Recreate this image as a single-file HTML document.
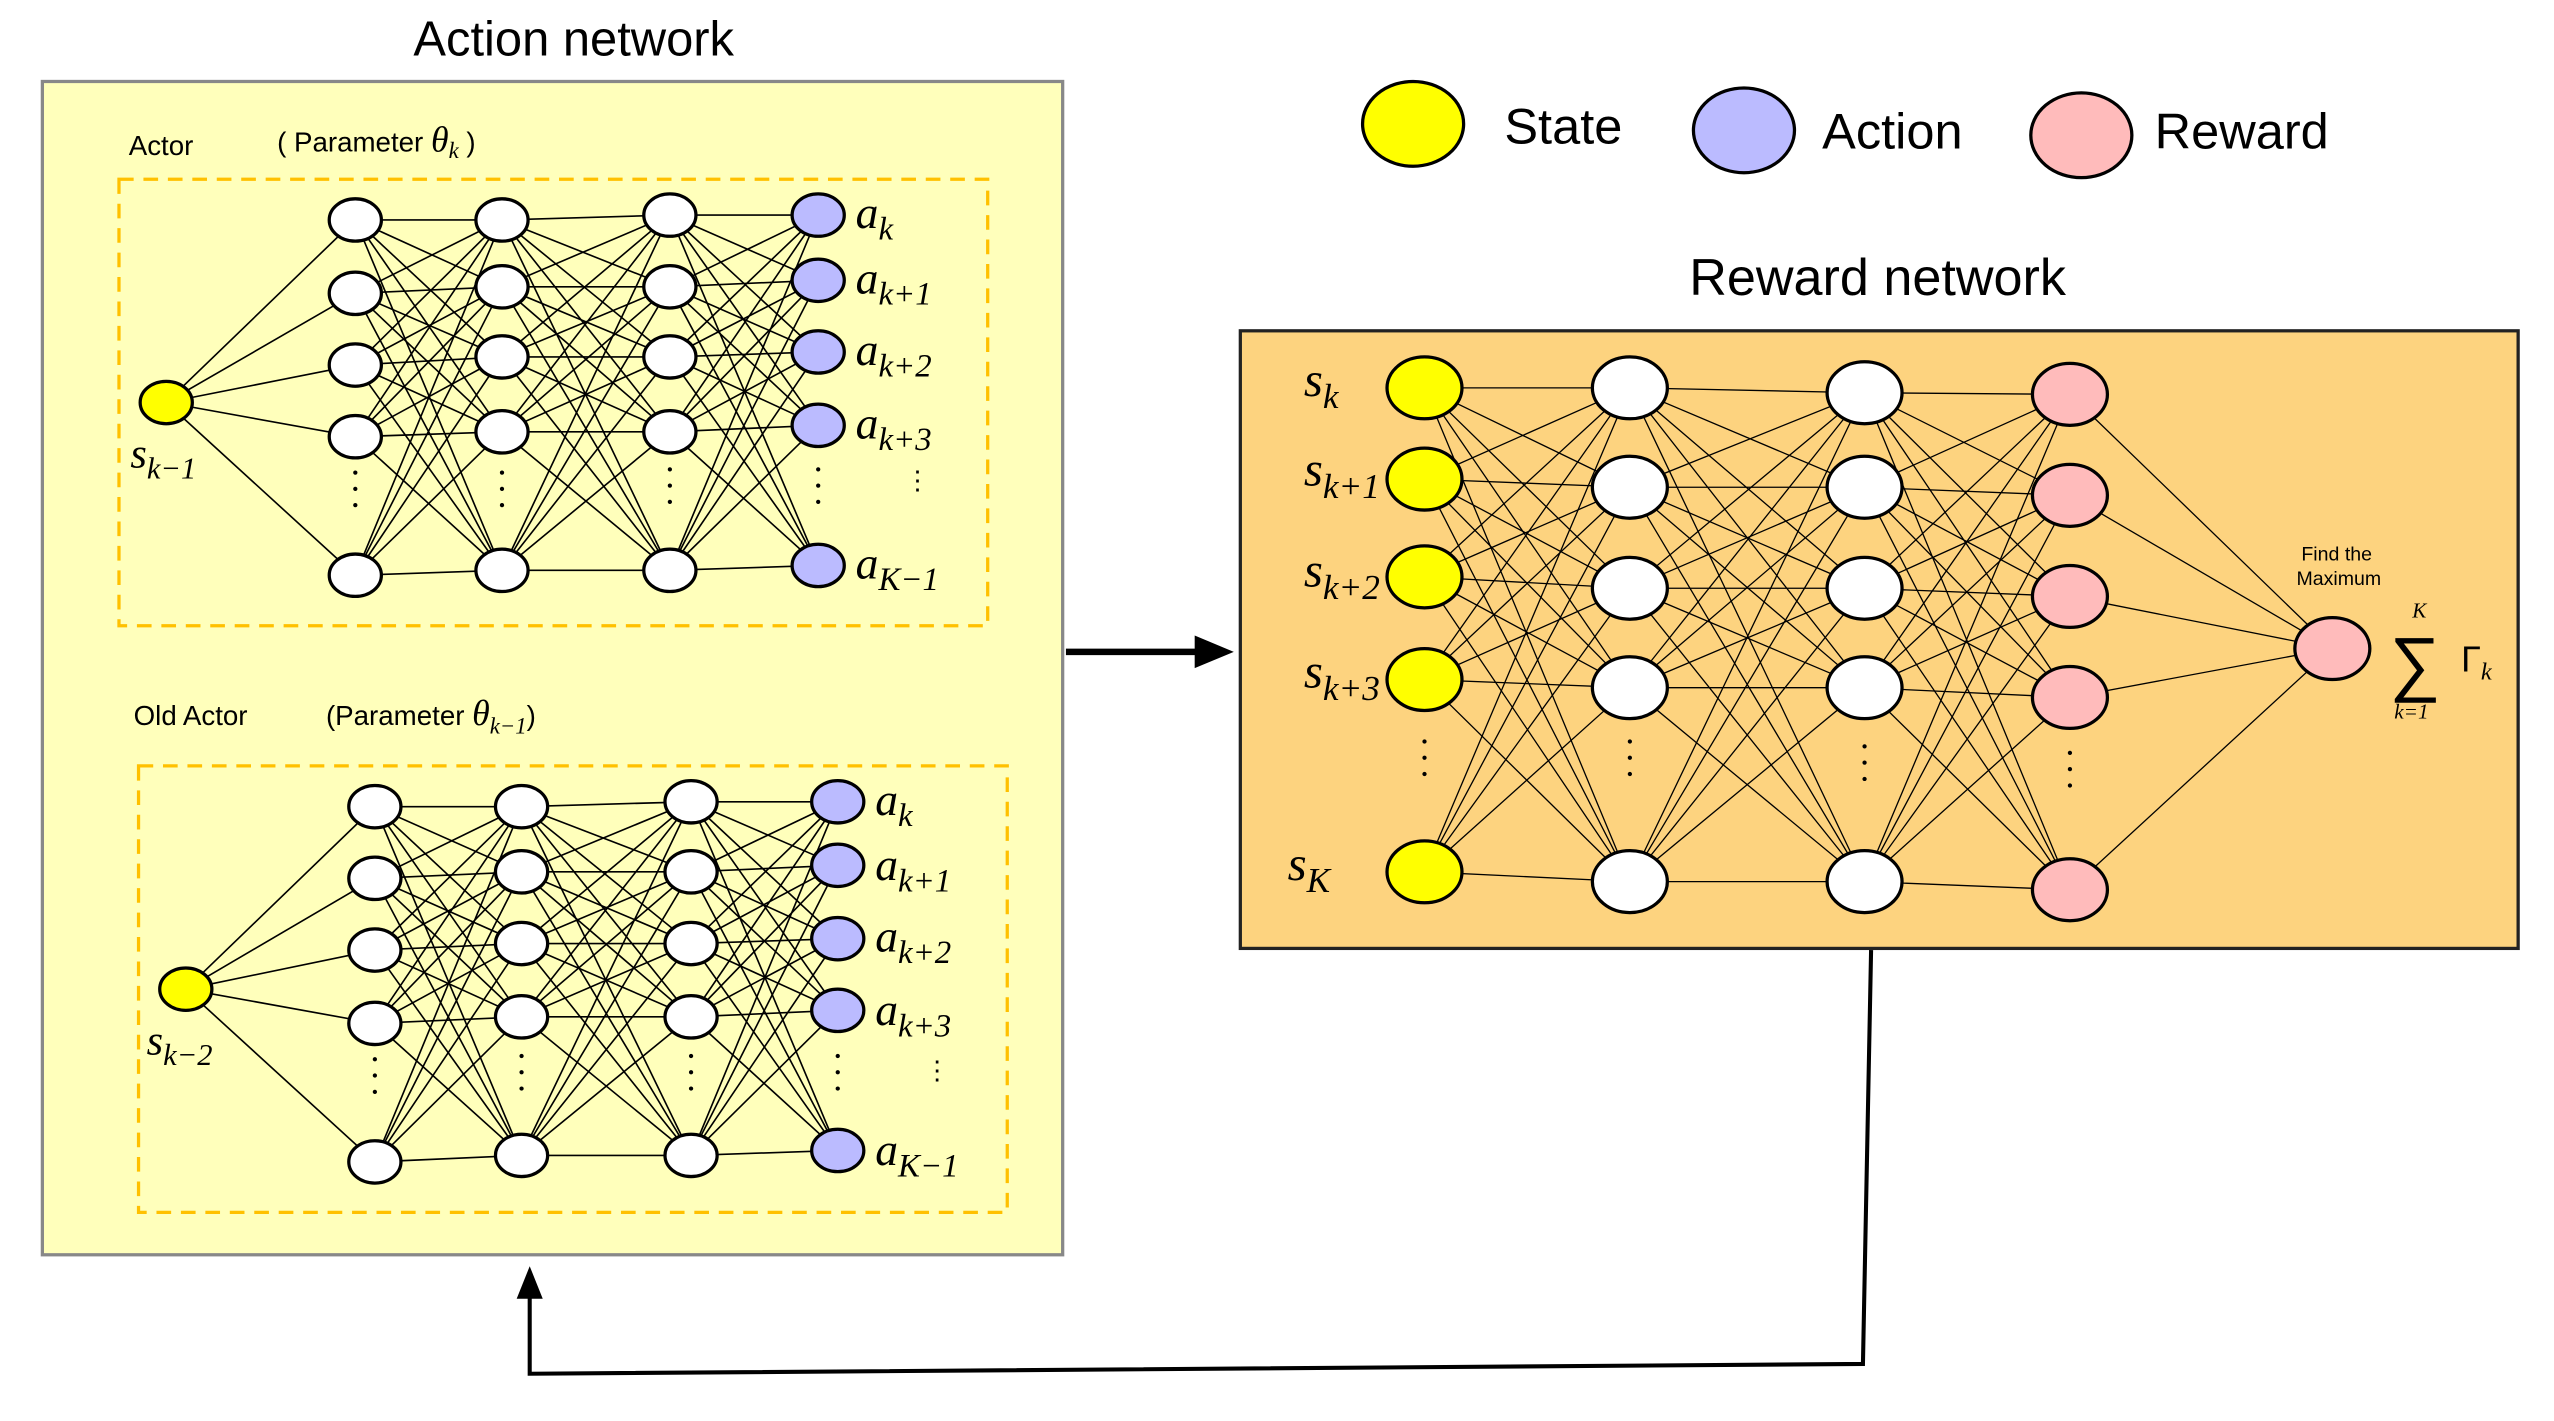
<!DOCTYPE html>
<html><head><meta charset="utf-8"><style>
html,body{margin:0;padding:0;background:#fff;}
svg{display:block;}
text{font-family:"Liberation Sans",sans-serif;}
.m{font-family:"Liberation Serif",serif;font-style:italic;}
</style></head><body>
<svg id="s" width="2554" height="1421" viewBox="0 0 1567 872" preserveAspectRatio="none" xmlns="http://www.w3.org/2000/svg">
<rect x="0" y="0" width="1567" height="872" fill="#fff"/>
<text x="352" y="34" font-size="30" text-anchor="middle">Action network</text>
<rect x="26" y="50" width="626" height="720" fill="#ffffbb" stroke="#888" stroke-width="2"/>
<rect x="73" y="110" width="533" height="274" fill="none" stroke="#ffc000" stroke-width="2" stroke-dasharray="9,6"/>
<rect x="85" y="470" width="533" height="274" fill="none" stroke="#ffc000" stroke-width="2" stroke-dasharray="9,6"/>
<text x="79" y="95" font-size="17">Actor</text>
<text x="170" y="93" font-size="17">( Parameter <tspan class="m" font-size="22">θ</tspan><tspan class="m" font-size="14" dy="4">k</tspan><tspan dy="-4"> )</tspan></text>
<text x="82" y="445" font-size="17">Old Actor</text>
<text x="200" y="445" font-size="17">(Parameter <tspan class="m" font-size="22">θ</tspan><tspan class="m" font-size="14" dy="5">k−1</tspan><tspan dy="-5">)</tspan></text>
<text x="1152" y="181" font-size="32" text-anchor="middle">Reward network</text>
<rect x="761" y="203" width="784" height="379" fill="#fdd37f" stroke="#222" stroke-width="2"/>
<g id="g"></g>
<ellipse cx="867" cy="76" rx="31" ry="26" fill="#ffff00" stroke="#000" stroke-width="2"/>
<text x="923" y="88" font-size="31">State</text>
<ellipse cx="1070" cy="80" rx="31" ry="26" fill="#bbbbff" stroke="#000" stroke-width="2"/>
<text x="1118" y="91" font-size="31">Action</text>
<ellipse cx="1277" cy="83" rx="31" ry="26" fill="#ffbbbb" stroke="#000" stroke-width="2"/>
<text x="1322" y="91" font-size="31">Reward</text>
<line x1="654" y1="400" x2="735" y2="400" stroke="#000" stroke-width="4"/>
<polygon points="733,390 757,400 733,410" fill="#000"/>
<polyline points="1148,583 1143,837 325,843 325,795" fill="none" stroke="#000" stroke-width="2.5"/>
<polygon points="317,797 325,777 333,797" fill="#000"/>
<text x="1412" y="344" font-size="12">Find the</text>
<text x="1409" y="359" font-size="12">Maximum</text>
<text x="1466" y="422" font-size="44" font-family="Liberation Serif,serif">∑</text>
<text x="1480" y="379" font-size="13" class="m">K</text>
<text x="1469" y="441" font-size="13" class="m">k=1</text>
<text x="1510" y="412" font-size="22" font-family="Liberation Serif,serif">Γ<tspan class="m" font-size="15" dy="5">k</tspan></text>
</svg>
<script>
var g=document.getElementById('g'),L='',N='',T='';
function ln(a,b,c,d,w){L+='<line x1="'+a+'" y1="'+b+'" x2="'+c+'" y2="'+d+'" stroke="#000" stroke-width="'+w+'"/>';}
function el(x,y,rx,ry,f){N+='<ellipse cx="'+x+'" cy="'+y+'" rx="'+rx+'" ry="'+ry+'" fill="'+f+'" stroke="#000" stroke-width="2"/>';}
function dots(x,y){for(var i=0;i<3;i++)N+='<circle cx="'+x+'" cy="'+(y+i*10)+'" r="1.3" fill="#000"/>';}
function net(inp,layers,cols,rx,ry,rxi,ryi,w,dotY){
 var a=layers[0];
 for(var j=0;j<a.ys.length;j++)ln(inp[0],inp[1],a.x,a.ys[j],w);
 for(var k=0;k<layers.length-1;k++){var p=layers[k],q=layers[k+1];
  for(var i=0;i<p.ys.length;i++)for(var j=0;j<q.ys.length;j++)ln(p.x,p.ys[i],q.x,q.ys[j],w);}
 el(inp[0],inp[1],rxi,ryi,'#ffff00');
 for(var k=0;k<layers.length;k++){var p=layers[k];for(var i=0;i<p.ys.length;i++)el(p.x,p.ys[i],rx,ry,cols[k]);dots(p.x,dotY[k]);}
}
var W='#fff',P='#bbbbff',R='#ffbbbb';
net([102,247],[{x:218,ys:[135,180,224,268,353]},{x:308,ys:[135,176,219,265,350]},{x:411,ys:[132,176,219,265,350]},{x:502,ys:[132,172,216,261,347]}],[W,W,W,P],16,13,16,13,1,[290,290,288,288]);
net([114,607],[{x:230,ys:[495,539,583,628,713]},{x:320,ys:[495,535,579,624,709]},{x:424,ys:[492,535,579,624,709]},{x:514,ys:[492,531,576,620,706]}],[W,W,W,P],16,13,16,13,1,[650,648,648,648]);
var RL=[{x:874,ys:[238,294,354,417,535]},{x:1000,ys:[238,299,361,422,541]},{x:1144,ys:[241,299,361,422,541]},{x:1270,ys:[242,304,366,428,546]}];
for(var k=0;k<3;k++){var p=RL[k],q=RL[k+1];for(var i=0;i<5;i++)for(var j=0;j<5;j++)ln(p.x,p.ys[i],q.x,q.ys[j],0.8);}
for(var i=0;i<5;i++)ln(1270,RL[3].ys[i],1431,398,0.8);
var cs=['#ffff00',W,W,R];
for(var k=0;k<4;k++){for(var i=0;i<5;i++)el(RL[k].x,RL[k].ys[i],23,19,cs[k]);dots(RL[k].x,[455,455,458,462][k]);}
el(1431,398,23,19,R);
function lab(x,y,b,s,fs){T+='<text x="'+x+'" y="'+y+'" class="m" font-size="'+fs+'">'+b+'<tspan font-size="'+(fs*0.72)+'" dy="'+(fs*0.25)+'">'+s+'</tspan></text>';}
var A=[['k',140],['k+1',180],['k+2',224],['k+3',269],['K−1',355]];
for(var i=0;i<5;i++){lab(525,A[i][1],'a',A[i][0],28);lab(537,A[i][1]+360,'a',A[i][0],28);}
T+='<text x="555" y="300" font-size="16">⋮</text><text x="567" y="662" font-size="16">⋮</text>';
lab(80,287,'s','k−1',26);lab(90,647,'s','k−2',26);
var S=[['k',243],['k+1',298],['k+2',360],['k+3',422],['K',540]];
for(var i=0;i<5;i++)lab(i==4?790:800,S[i][1],'s',S[i][0],30);
g.innerHTML=L+N+T;
</script>
</body></html>
